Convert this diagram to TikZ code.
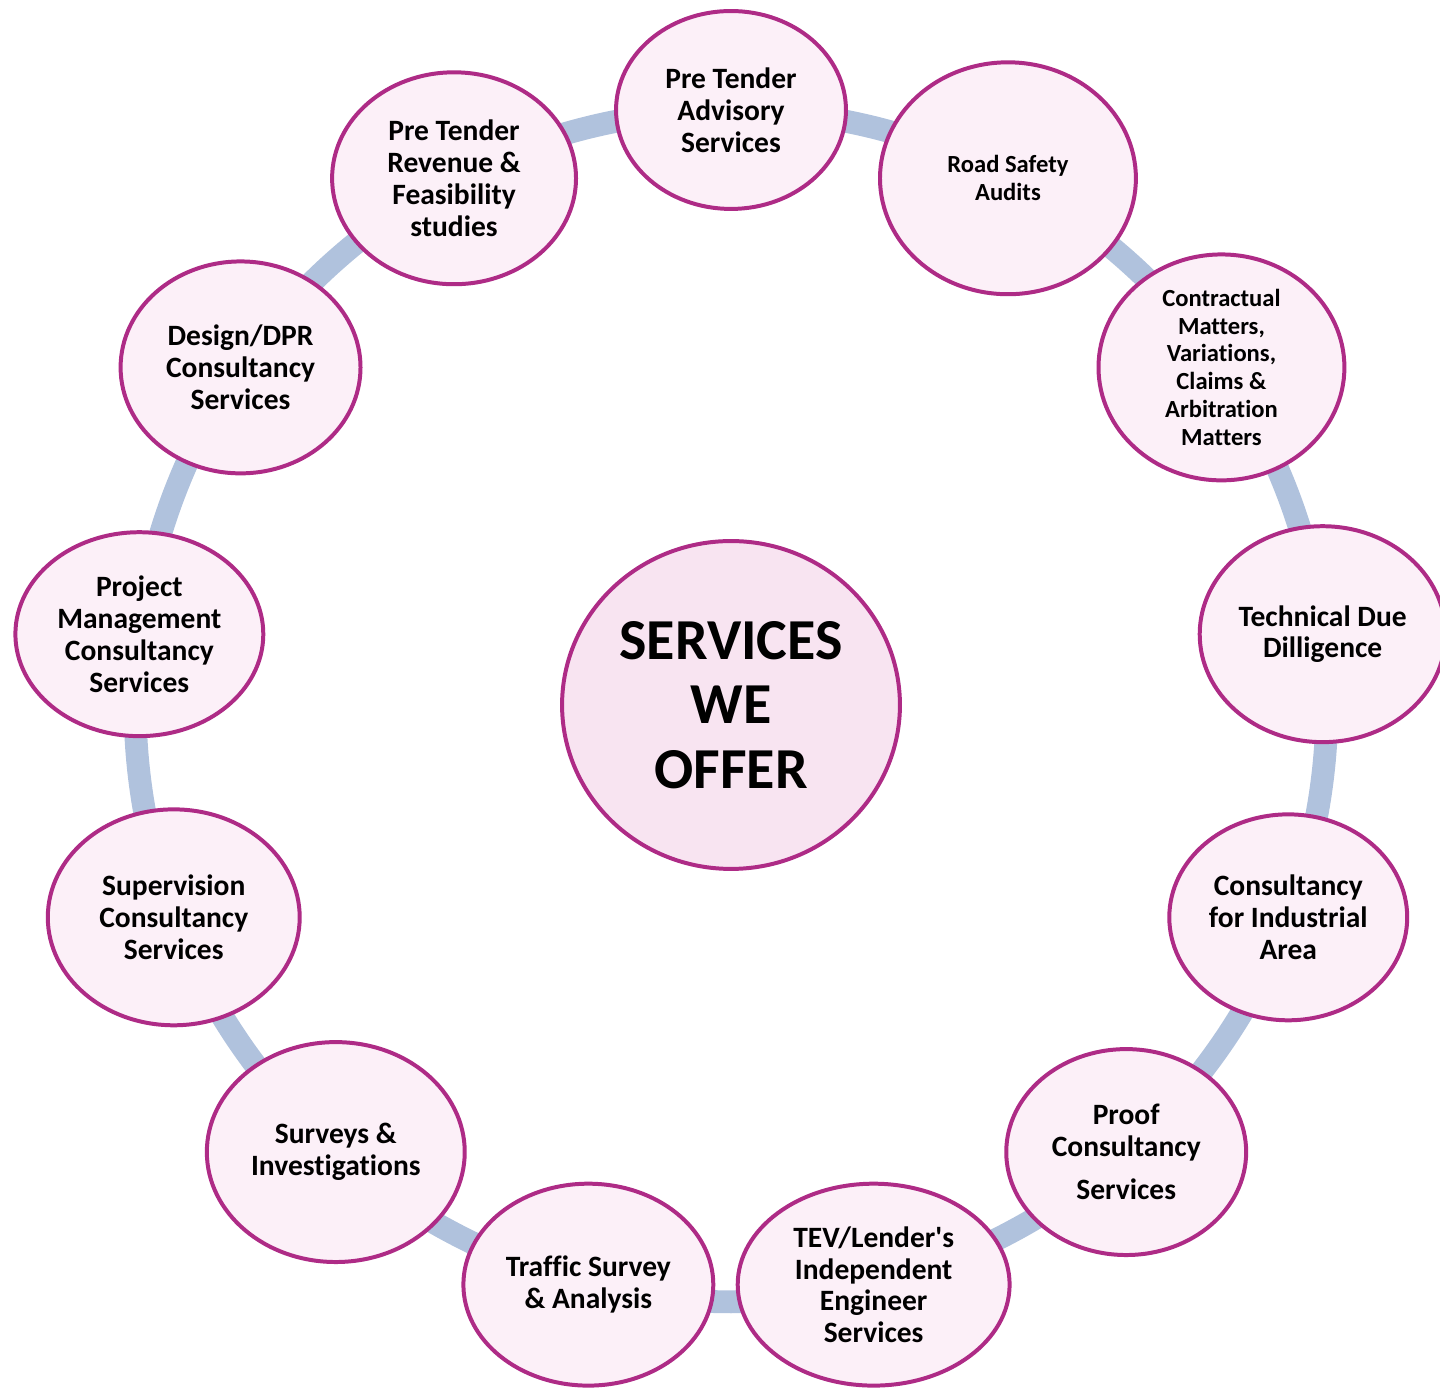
\documentclass[tikz,border=0pt]{standalone}
\usepackage{fontspec}
\setmainfont{Carlito}[Ligatures={TeX,NoCommon}]
\usetikzlibrary{shapes.geometric,backgrounds}
\definecolor{ringc}{HTML}{B0C2DD}
\definecolor{bord}{HTML}{AE2B86}
\definecolor{nfill}{HTML}{FCF0F8}
\definecolor{cfill}{HTML}{F8E4F1}
\begin{document}
\begin{tikzpicture}[x=0.02cm,y=0.02cm,
  svc/.style 2 args={ellipse, draw=bord, line width=2.27pt, fill=nfill, inner sep=0pt, align=center,
    minimum width=#1*0.04cm-0.08cm, minimum height=#2*0.04cm-0.08cm,
    font=\bfseries\fontsize{16.8}{18.1}\selectfont},
  smalltxt/.style={font=\bfseries\fontsize{14}{15.9}\selectfont},
  centertxt/.style={fill=cfill, font=\bfseries\fontsize{33}{36.6}\selectfont},
  ring/.style={draw=ringc, line width=13pt, bend left=13.85, looseness=0.86}]
\useasboundingbox (0,0) rectangle (1440,1389);
\begin{scope}[shift={(731,683)}]
\node[svc={117}{101}] (adv) at (90:596) {Pre Tender\\Advisory\\Services};
\node[svc={130}{118},smalltxt] (road) at (62.31:596) {Road Safety\\Audits};
\node[svc={125}{115},smalltxt] (contr) at (34.62:596) {Contractual\\Matters,\\Variations,\\Claims \&\\Arbitration\\Matters};
\node[svc={125}{110}] (tech) at (6.92:596) {Technical Due\\Dilligence};
\node[svc={121}{105}] (ind) at (-20.77:596) {Consultancy\\for Industrial\\Area};
\node[svc={122}{105}] (proof) at (-48.46:596) {Proof\\Consultancy\\[6.2pt]Services};
\node[svc={138}{103}] (tev) at (-76.15:596) {TEV/Lender\textquotesingle s\\Independent\\Engineer\\Services};
\node[svc={127}{103}] (traffic) at (-103.85:596) {Traffic Survey\\\& Analysis};
\node[svc={131}{112}] (surveys) at (-131.54:596) {Surveys \&\\Investigations};
\node[svc={128}{110}] (superv) at (-159.23:596) {Supervision\\Consultancy\\Services};
\node[svc={126}{104}] (pm) at (173.08:596) {Project\\Management\\Consultancy\\Services};
\node[svc={122}{108}] (design) at (145.38:596) {Design/DPR\\Consultancy\\Services};
\node[svc={124}{108}] (revenue) at (117.69:596) {Pre Tender\\Revenue \&\\Feasibility\\studies};
\node[svc={171}{166},centertxt] (ctr) at (0,1) {SERVICES\\WE\\OFFER};
\end{scope}
\begin{scope}[on background layer]
\foreach \a/\b in {adv/road,road/contr,contr/tech,tech/ind,ind/proof,proof/tev,tev/traffic,traffic/surveys,surveys/superv,superv/pm,pm/design,design/revenue,revenue/adv}
  \draw[ring] (\a.center) to (\b.center);
\end{scope}
\end{tikzpicture}
\end{document}
